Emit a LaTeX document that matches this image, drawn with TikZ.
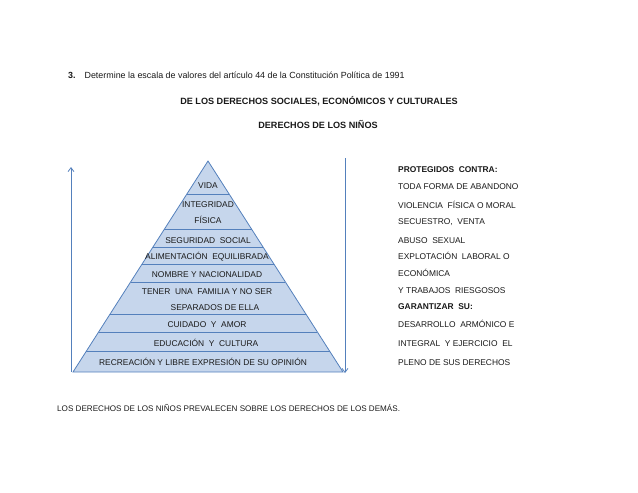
\documentclass[tikz,border=0pt]{standalone}
\usepackage{fontspec}
\setmainfont{Liberation Sans}
\usetikzlibrary{arrows.meta,calc}
\definecolor{pyrfill}{RGB}{198,214,236}
\definecolor{pyrline}{RGB}{84,128,188}
\definecolor{txt}{RGB}{25,25,25}
\tikzset{
  lbl/.style={inner sep=0pt, text=txt, font=\fontsize{8.4}{10}\selectfont},
  pl/.style={lbl, anchor=base},
  rl/.style={lbl, anchor=base west},
  hd/.style={lbl, anchor=base, font=\fontsize{9.1}{11}\selectfont\bfseries},
  band/.style={draw=pyrline, line width=0.8pt},
  arr/.style={draw=pyrline, line width=0.8pt, -{Straight Barb[length=4pt,width=6pt]}}
}
\begin{document}
\begin{tikzpicture}[x=1pt,y=-1pt]
\useasboundingbox (0,0) rectangle (638,493);
% title
\node[rl, font=\fontsize{8.9}{10}\selectfont] (title) at (68,78) {\textbf{3.}\hspace{9pt}Determine la escala de valores del artículo 44 de la Constitución Política de 1991};
\node[hd] (h1) at (319,104) {DE LOS DERECHOS SOCIALES, ECONÓMICOS Y CULTURALES};
\node[hd] (h2) at (318,128) {DERECHOS DE LOS NIÑOS};
% pyramid
\coordinate (apex) at (208,161);
\coordinate (bl) at (73,372);
\coordinate (br) at (343,372);
\filldraw[fill=pyrfill, draw=pyrline, line width=0.8pt, line join=miter] (apex) -- (br) -- (bl) -- cycle;
\foreach \t in {0.1564,0.3223,0.4076,0.4882,0.5735,0.7251,0.8104,0.9005}{
  \draw[band] ($(apex)!\t!(bl)$) -- ($(apex)!\t!(br)$);
}
\node[pl] (vida) at (208,188) {VIDA};
\node[pl] (integ) at (208,207) {INTEGRIDAD};
\node[pl] (fisica) at (208,223) {FÍSICA};
\node[pl] (segur) at (208,243) {SEGURIDAD\ \ SOCIAL};
\node[pl] (alim) at (207,259) {ALIMENTACIÓN\ \ EQUILIBRADA};
\node[pl] (nombre) at (207,277) {NOMBRE Y NACIONALIDAD};
\node[pl] (tener) at (207,294) {TENER\ \ UNA\ \ FAMILIA Y NO SER};
\node[pl] (separ) at (215,310) {SEPARADOS DE ELLA};
\node[pl] (cuid) at (207,327) {CUIDADO\ \ Y\ \ AMOR};
\node[pl] (educ) at (206,346) {EDUCACIÓN\ \ Y\ \ CULTURA};
\node[pl] (recr) at (203,365) {RECREACIÓN Y LIBRE EXPRESIÓN DE SU OPINIÓN};
% arrows
\coordinate (la0) at (71,372);
\coordinate (la1) at (71,167);
\coordinate (ra0) at (345,158);
\coordinate (ra1) at (345,373);
\draw[arr] (la0) -- (la1);
\draw[arr] (ra0) -- (ra1);
% right column
\node[rl, font=\fontsize{8.4}{10}\selectfont\bfseries] (prot) at (398,172) {PROTEGIDOS\ \ CONTRA:};
\node[rl] (r1) at (398,189) {TODA FORMA DE ABANDONO};
\node[rl] (r2) at (398,208) {VIOLENCIA\ \ FÍSICA O MORAL};
\node[rl] (r3) at (398,224) {SECUESTRO,\ \ VENTA};
\node[rl] (r4) at (398,243) {ABUSO\ \ SEXUAL};
\node[rl] (r5) at (398,259) {EXPLOTACIÓN\ \ LABORAL O};
\node[rl] (r6) at (398,276) {ECONÓMICA};
\node[rl] (r7) at (398,293) {Y TRABAJOS\ \ RIESGOSOS};
\node[rl, font=\fontsize{8.4}{10}\selectfont\bfseries] (gar) at (398,309) {GARANTIZAR\ \ SU:};
\node[rl] (r8) at (398,327) {DESARROLLO\ \ ARMÓNICO E};
\node[rl] (r9) at (398,346) {INTEGRAL\ \ Y EJERCICIO\ \ EL};
\node[rl] (r10) at (398,365) {PLENO DE SUS DERECHOS};
% bottom
\node[rl, font=\fontsize{8.1}{10}\selectfont] (bottom) at (57,411) {LOS DERECHOS DE LOS NIÑOS PREVALECEN SOBRE LOS DERECHOS DE LOS DEMÁS.};
\end{tikzpicture}
\end{document}
